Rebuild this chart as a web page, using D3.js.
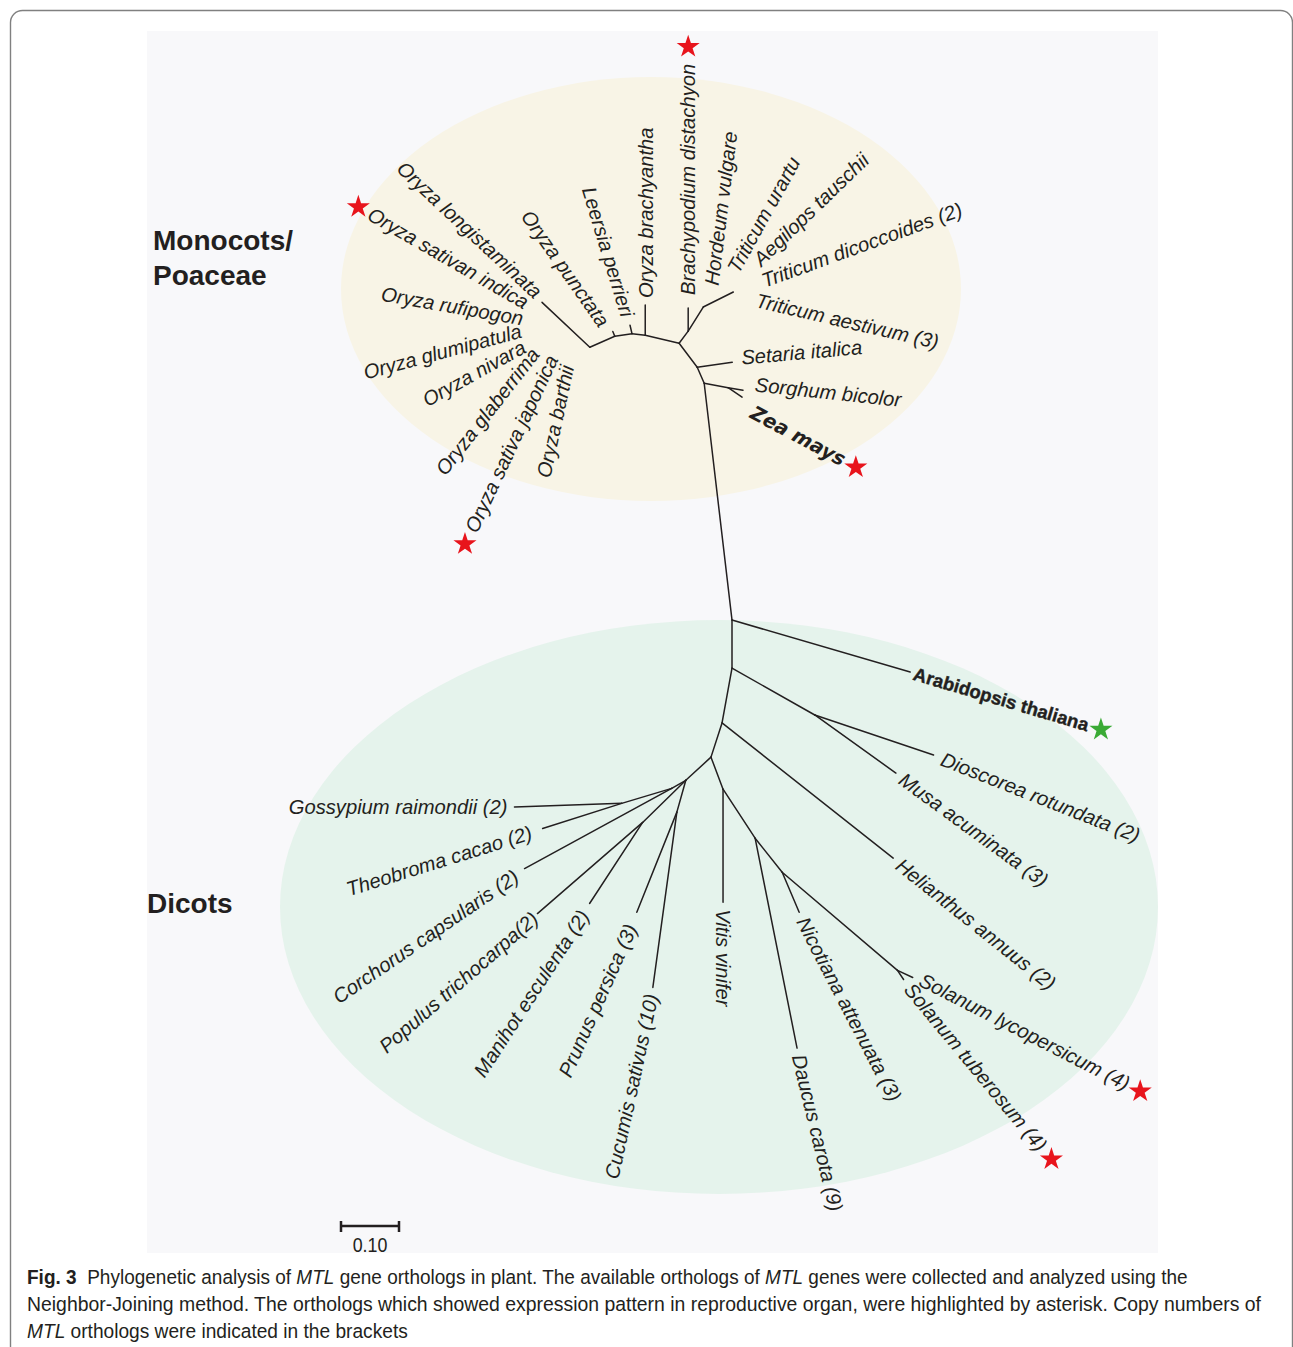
<!DOCTYPE html>
<html>
<head>
<meta charset="utf-8">
<script src="https://cdn.jsdelivr.net/npm/d3@7/dist/d3.min.js"></script>
<style>
    body { margin: 0; background: #fff; }
    svg { display: block; }
</style>
</head>
<body>
<svg id="chart" width="1293" height="1347"></svg>
<script>
// branches of the NJ tree: child, parent, branch length (subst./site), direction (deg)
var edges = [
    // monocots / Poaceae
    ["m0", "root", 0.411, -96.7],
    ["m1", "m0", 0.030, -113.6],
    ["m2", "m1", 0.052, -126.9],
    ["sz", "m0", 0.042, 10.6],
    ["Sorghum bicolor", "sz", 0.026, 9.5],
    ["Zea mays", "sz", 0.029, 34],
    ["Setaria italica", "m1", 0.061, -8.1],
    ["b0", "m2", 0.026, -53],
    ["Brachypodium distachyon", "b0", 0.040, -90],
    ["h0", "b0", 0.049, -58],
    ["Hordeum vulgare", "h0", 0, -83],
    ["t0", "h0", 0.058, -26.6],
    ["Triticum urartu", "t0", 0, -61],
    ["Aegilops tauschii", "t0", 0, -44],
    ["Triticum dicoccoides (2)", "t0", 0, -20],
    ["Triticum aestivum (3)", "t0", 0, 16],
    ["a1", "m2", 0.060, -166.8],
    ["Oryza brachyantha", "a1", 0.052, -90],
    ["a2", "a1", 0.023, -173.4],
    ["Leersia perrieri", "a2", 0.015, -103],
    ["a3", "a2", 0.030, 171.6],
    ["Oryza punctata", "a3", 0.009, -112],
    ["o0", "a3", 0.047, 156.3],
    ["o1", "o0", 0.113, -136.8],
    ["Oryza longistaminata", "o1", 0, -137],
    ["Oryza sativan indica", "o1", 0, 180],
    ["Oryza rufipogon", "o1", 0, 180],
    ["Oryza glumipatula", "o1", 0, 180],
    ["Oryza nivara", "o1", 0, 150],
    ["Oryza glaberrima", "o1", 0, 130],
    ["Oryza sativa japonica", "o1", 0, 115],
    ["Oryza barthii", "o1", 0, 100],
    // dicots
    ["Arabidopsis thaliana", "root", 0.320, 16.3],
    ["d1", "root", 0.083, 90],
    ["dm", "d1", 0.164, 29.5],
    ["Dioscorea rotundata (2)", "dm", 0.216, 18.6],
    ["Musa acuminata (3)", "dm", 0.172, 35.6],
    ["d2", "d1", 0.096, 100.3],
    ["Helianthus annuus (2)", "d2", 0.376, 38.3],
    ["d3", "d2", 0.062, 107.9],
    ["v0", "d3", 0.059, 69.4],
    ["Vitis vinifer", "v0", 0.195, 90],
    ["n1", "v0", 0.101, 56.8],
    ["Daucus carota (9)", "n1", 0.369, 78.7],
    ["n2", "n1", 0.075, 51.5],
    ["Nicotiana attenuata (3)", "n2", 0.075, 67],
    ["s0", "n2", 0.261, 40.4],
    ["Solanum lycopersicum (4)", "s0", 0.029, 25],
    ["Solanum tuberosum (4)", "s0", 0.019, 56.3],
    ["l1", "d3", 0.059, 137.4],
    ["l2", "l1", 0.028, 150.3],
    ["g0", "l2", 0.090, 163.3],
    ["Gossypium raimondii (2)", "g0", 0.185, 178],
    ["Theobroma cacao (2)", "g0", 0.143, 162.4],
    ["Corchorus capsularis (2)", "l2", 0.289, 151.4],
    ["pm", "l1", 0.104, 135.7],
    ["Populus trichocarpa(2)", "pm", 0.240, 139.1],
    ["Manihot esculenta (2)", "pm", 0.167, 123.2],
    ["pc", "l1", 0.057, 105.7],
    ["Prunus persica (3)", "pc", 0.186, 111.8],
    ["Cucumis sativus (10)", "pc", 0.305, 97.8]
];

// orthologs expressed in reproductive organ (asterisk)
var highlighted = ["Brachypodium distachyon", "Oryza sativan indica", "Zea mays",
    "Oryza sativa japonica", "Solanum lycopersicum (4)", "Solanum tuberosum (4)"];
var referenceGene = "Arabidopsis thaliana";
var boldLabels = ["Zea mays", "Arabidopsis thaliana"];

var cladeNames = [["Monocots/", "Poaceae"], ["Dicots"]];
var scaleBarValue = 0.10;

var captionLines = [
    [["Fig. 3", "b"], ["  Phylogenetic analysis of ", ""], ["MTL", "i"],
     [" gene orthologs in plant. The available orthologs of ", ""], ["MTL", "i"],
     [" genes were collected and analyzed using the", ""]],
    [["Neighbor-Joining method. The orthologs which showed expression pattern in reproductive organ, were highlighted by asterisk. Copy numbers of", ""]],
    [["MTL", "i"], [" orthologs were indicated in the brackets", ""]]
];

// label placement: rotation, anchored at end (text reads toward leaf), gap or explicit offset
var labelLayout = {
    "Brachypodium distachyon": { rot: -90, gap: 13 },
    "Oryza brachyantha": { rot: -90, gap: 7 },
    "Hordeum vulgare": { rot: -83, off: [8, -22] },
    "Triticum urartu": { rot: -61, off: [-1, -21] },
    "Aegilops tauschii": { rot: -44, off: [23, -30] },
    "Triticum dicoccoides (2)": { rot: -20, off: [29, -11] },
    "Triticum aestivum (3)": { rot: 13, off: [23, 8] },
    "Setaria italica": { rot: -5, off: [9, -5] },
    "Sorghum bicolor": { rot: 6, off: [12, -6] },
    "Zea mays": { rot: 28, off: [10, 14] },
    "Leersia perrieri": { rot: 73, end: true, off: [-2, -9] },
    "Oryza punctata": { rot: 55, end: true, off: [-8, -7] },
    "Oryza longistaminata": { rot: 43, end: true, off: [-3, -8] },
    "Oryza sativan indica": { rot: 30, end: true, off: [-15, 1] },
    "Oryza rufipogon": { rot: 10, end: true, off: [-19, 16] },
    "Oryza glumipatula": { rot: -15, end: true, off: [-21, 28] },
    "Oryza nivara": { rot: -29, end: true, off: [-18, 43] },
    "Oryza glaberrima": { rot: -52, end: true, off: [-7, 48] },
    "Oryza sativa japonica": { rot: -65, end: true, off: [10, 54] },
    "Oryza barthii": { rot: -78, end: true, off: [25, 63] },
    "Arabidopsis thaliana": { rot: 16.5, gap: 4 },
    "Dioscorea rotundata (2)": { rot: 21.5, gap: 9 },
    "Musa acuminata (3)": { rot: 36 },
    "Helianthus annuus (2)": { rot: 38.5 },
    "Solanum lycopersicum (4)": { rot: 27, off: [8, 1] },
    "Solanum tuberosum (4)": { rot: 50.4, gap: 8 },
    "Nicotiana attenuata (3)": { rot: 62.6 },
    "Daucus carota (9)": { rot: 76.3 },
    "Vitis vinifer": { rot: 90 },
    "Cucumis sativus (10)": { rot: -77.7, end: true },
    "Prunus persica (3)": { rot: -66, end: true, gap: 14 },
    "Manihot esculenta (2)": { rot: -57, end: true, gap: 10 },
    "Populus trichocarpa(2)": { rot: -41, end: true, gap: 3 },
    "Corchorus capsularis (2)": { rot: -34.4, end: true, gap: 10 },
    "Theobroma cacao (2)": { rot: -17.3, end: true, gap: 12 },
    "Gossypium raimondii (2)": { rot: 0, end: true }
};

var cInk = "#231f20",
    cFont = "'Liberation Sans', Arial, Helvetica, sans-serif";

var svg = d3.select("#chart");

// outer frame and plot panel
svg.append("rect")
    .attr("x", 10.5).attr("y", 10.5)
    .attr("width", 1282).attr("height", 1400)
    .attr("rx", 12)
    .attr("fill", "#fff")
    .attr("stroke", "#808080")
    .attr("stroke-width", 1.4);
svg.append("rect")
    .attr("x", 147).attr("y", 31)
    .attr("width", 1011).attr("height", 1222)
    .attr("fill", "#f8f8fa");

// clade shading
svg.append("ellipse")
    .attr("cx", 651).attr("cy", 289).attr("rx", 310).attr("ry", 212)
    .attr("fill", "#f8f4e6");
svg.append("ellipse")
    .attr("cx", 719).attr("cy", 907).attr("rx", 439).attr("ry", 287)
    .attr("fill", "#e5f3ec");

// tree layout in branch length units
var pos = { root: [0, 0] };
edges.forEach(function (e) {
    var p = pos[e[1]], a = e[3] * Math.PI / 180;
    pos[e[0]] = [p[0] + e[2] * Math.cos(a), p[1] + e[2] * Math.sin(a)];
});

// 0.10 substitutions = 58 px
var x = d3.scaleLinear().domain([0, 1]).range([732, 1312]);
var y = d3.scaleLinear().domain([0, 1]).range([620, 1200]);

svg.append("g")
    .selectAll("line")
    .data(edges.filter(function (e) { return e[2] > 0; }))
    .enter()
    .append("line")
    .attr("x1", function (e) { return x(pos[e[1]][0]); })
    .attr("y1", function (e) { return y(pos[e[1]][1]); })
    .attr("x2", function (e) { return x(pos[e[0]][0]); })
    .attr("y2", function (e) { return y(pos[e[0]][1]); })
    .attr("stroke", cInk)
    .attr("stroke-width", 1.5)
    .attr("stroke-linecap", "round");

// leaf labels
var leaves = edges.filter(function (e) { return labelLayout[e[0]]; });
var gLabels = svg.append("g");
var starPts = [];

leaves.forEach(function (e) {
    var name = e[0], lay = labelLayout[name];
    var px = x(pos[name][0]), py = y(pos[name][1]);
    var a = lay.rot * Math.PI / 180,
        ux = Math.cos(a), uy = Math.sin(a),
        sgn = lay.end ? -1 : 1,
        ax, ay;
    if (lay.off) {
        ax = px + lay.off[0];
        ay = py + lay.off[1];
    } else {
        var gap = lay.gap === undefined ? 7 : lay.gap;
        ax = px + sgn * gap * ux;
        ay = py + sgn * gap * uy;
    }
    var isRef = name === referenceGene,
        isZea = name === "Zea mays";
    var t = gLabels.append("text")
        .attr("transform", "translate(" + ax + "," + ay + ") rotate(" + lay.rot + ")")
        .attr("dy", "0.36em")
        .attr("text-anchor", lay.end ? "end" : "start")
        .attr("font-family", isZea ? "'DejaVu Sans', sans-serif" : cFont)
        .attr("font-size", isZea ? 19.5 : (isRef ? 18.5 : 20.2))
        .attr("font-style", isRef ? "normal" : "italic")
        .attr("font-weight", boldLabels.indexOf(name) >= 0 ? "bold" : "normal")
        .attr("fill", cInk)
        .text(name);
    if (isRef) {
        t.attr("stroke", cInk).attr("stroke-width", 0.4);
    }
    if (highlighted.indexOf(name) >= 0 || isRef) {
        var len = t.node().getComputedTextLength() + (lay.rot === -90 ? 18 : 13);
        starPts.push({
            x: ax + sgn * len * ux,
            y: ay + sgn * len * uy,
            ref: isRef
        });
    }
});

// asterisks (stars)
svg.append("g")
    .selectAll("path")
    .data(starPts)
    .enter()
    .append("path")
    .attr("d", d3.symbol().type(d3.symbolStar).size(165))
    .attr("transform", function (d) { return "translate(" + d.x + "," + (d.y + 1) + ")"; })
    .attr("fill", function (d) { return d.ref ? "#3aaa35" : "#e8141c"; });

// clade names
var cladeText = svg.append("g")
    .attr("font-family", cFont)
    .attr("font-weight", "bold")
    .attr("font-size", 28)
    .attr("fill", cInk);
cladeText.append("text").attr("x", 153).attr("y", 250).text(cladeNames[0][0]);
cladeText.append("text").attr("x", 153).attr("y", 285).text(cladeNames[0][1]);
cladeText.append("text").attr("x", 147).attr("y", 913).text(cladeNames[1][0]);

// scale bar
var barX0 = 341, barY = 1226,
    barW = x(scaleBarValue) - x(0);
var gBar = svg.append("g").attr("stroke", cInk).attr("stroke-width", 2.5);
gBar.append("line").attr("x1", barX0).attr("x2", barX0 + barW).attr("y1", barY).attr("y2", barY);
gBar.append("line").attr("x1", barX0).attr("x2", barX0).attr("y1", barY - 5).attr("y2", barY + 6);
gBar.append("line").attr("x1", barX0 + barW).attr("x2", barX0 + barW).attr("y1", barY - 5).attr("y2", barY + 6);
svg.append("text")
    .attr("transform", "translate(" + (barX0 + barW / 2) + ",1252) scale(0.85,1)")
    .attr("text-anchor", "middle")
    .attr("font-family", cFont)
    .attr("font-size", 21)
    .attr("fill", cInk)
    .text(d3.format(".2f")(scaleBarValue));

// caption, squeezed to the width of the original condensed face
var captionWidths = [1161, 1235, 381];
captionLines.forEach(function (line, i) {
    var t = svg.append("text")
        .attr("font-family", cFont)
        .attr("font-size", 19.5)
        .attr("fill", cInk);
    line.forEach(function (s) {
        t.append("tspan")
            .attr("font-weight", s[1] === "b" ? "bold" : "normal")
            .attr("font-style", s[1] === "i" ? "italic" : "normal")
            .attr("xml:space", "preserve")
            .text(s[0]);
    });
    var w = t.node().getComputedTextLength();
    t.attr("transform", "translate(27," + (1284 + i * 27) + ") scale(" + (captionWidths[i] / w) + ",1)");
});
</script>
</body>
</html>
